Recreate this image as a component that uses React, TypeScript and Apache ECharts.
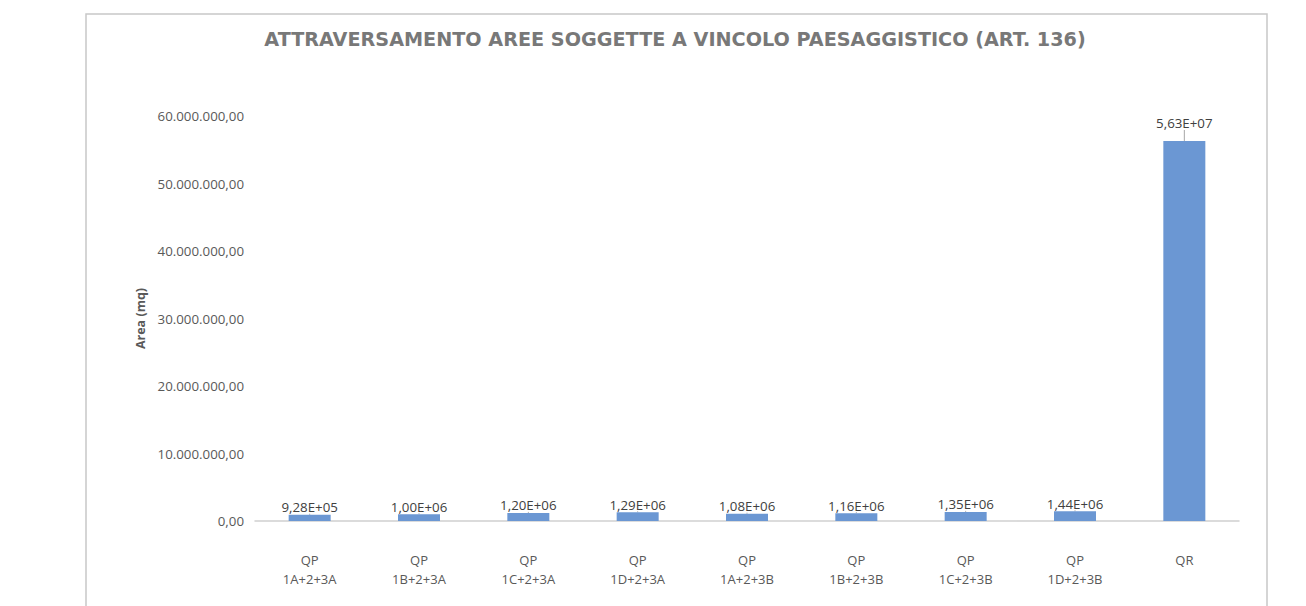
import React, { useEffect, useRef } from "react";
import * as echarts from "echarts";

const TITLE = "ATTRAVERSAMENTO AREE SOGGETTE A VINCOLO PAESAGGISTICO (ART. 136)";
const Y_NAME = "Area (mq)";
const categories = [
  "QP\n1A+2+3A",
  "QP\n1B+2+3A",
  "QP\n1C+2+3A",
  "QP\n1D+2+3A",
  "QP\n1A+2+3B",
  "QP\n1B+2+3B",
  "QP\n1C+2+3B",
  "QP\n1D+2+3B",
  "QR",
];
const areaValues = [928000, 1000000, 1200000, 1290000, 1080000, 1160000, 1350000, 1440000, 56300000];
const yTicks = { min: 0, max: 60000000, interval: 10000000 };

function itNumber(v: number): string {
  const fixed = v.toFixed(2);
  const [intPart, dec] = fixed.split(".");
  const withDots = intPart.replace(/\B(?=(\d{3})+(?!\d))/g, ".");
  return withDots + "," + dec;
}

function sciLabel(v: number): string {
  const s = v.toExponential(2);
  const [mant, exp] = s.split("e");
  const sign = exp[0] === "-" ? "-" : "+";
  const digits = exp.replace(/[+-]/, "").padStart(2, "0");
  return mant.replace(".", ",") + "E" + sign + digits;
}

export default function App() {
  const ref = useRef<HTMLDivElement>(null);
  useEffect(() => {
    if (!ref.current) return;
    const chart = echarts.init(ref.current, undefined, { renderer: "svg" });
    const font = "'Open Sans', 'Noto Sans', sans-serif";
    chart.setOption({
      animation: false,
      backgroundColor: "#ffffff",
      textStyle: { fontFamily: font },
      graphic: [
        {
          type: "rect",
          shape: { x: 86, y: 14, width: 1181, height: 620 },
          style: { fill: "#ffffff", stroke: "#c8c8c8", lineWidth: 1.5 },
          z: -10,
          silent: true,
        },
      ],
      title: {
        text: TITLE,
        left: 670,
        textAlign: "center",
        top: 25,
        textStyle: { fontFamily: "'DejaVu Sans', sans-serif", fontSize: 19.2, fontWeight: "bold", color: "#787878" },
      },
      grid: { left: 255, right: 1306 - 1239, top: 116, bottom: 606 - 521, containLabel: false },
      xAxis: {
        type: "category",
        data: categories,
        axisLine: { show: true, lineStyle: { color: "#d0d0d0", width: 1.5 } },
        axisTick: { show: false },
        axisLabel: { color: "#595959", fontSize: 13, lineHeight: 19, margin: 29, fontFamily: font, interval: 0 },
      },
      yAxis: {
        type: "value",
        min: yTicks.min,
        max: yTicks.max,
        interval: yTicks.interval,
        name: Y_NAME,
        nameLocation: "middle",
        nameRotate: 90,
        nameGap: 108,
        nameTextStyle: { color: "#595959", fontSize: 12.5, fontWeight: "bold", fontFamily: font },
        axisLine: { show: false },
        axisTick: { show: false },
        splitLine: { show: false },
        axisLabel: { color: "#595959", fontSize: 13.3, margin: 11, fontFamily: font, formatter: (v: number) => itNumber(v) },
      },
      series: [
        {
          type: "bar",
          data: areaValues,
          barWidth: 42,
          itemStyle: { color: "#6b97d3" },
          label: {
            show: true,
            position: "top",
            distance: 1,
            color: "#404040",
            fontSize: 13.3,
            fontFamily: font,
            formatter: (p: any) => sciLabel(p.value as number),
          },
          labelLine: { show: true, lineStyle: { color: "#a6a6a6", width: 1 } },
          labelLayout: (params: any) => (params.dataIndex === areaValues.length - 1 ? { dy: -10 } : {}),
        },
      ],
    });
    return () => chart.dispose();
  }, []);
  return <div ref={ref} style={{ position: "fixed", left: 0, top: 0, width: 1306, height: 606 }} />;
}
